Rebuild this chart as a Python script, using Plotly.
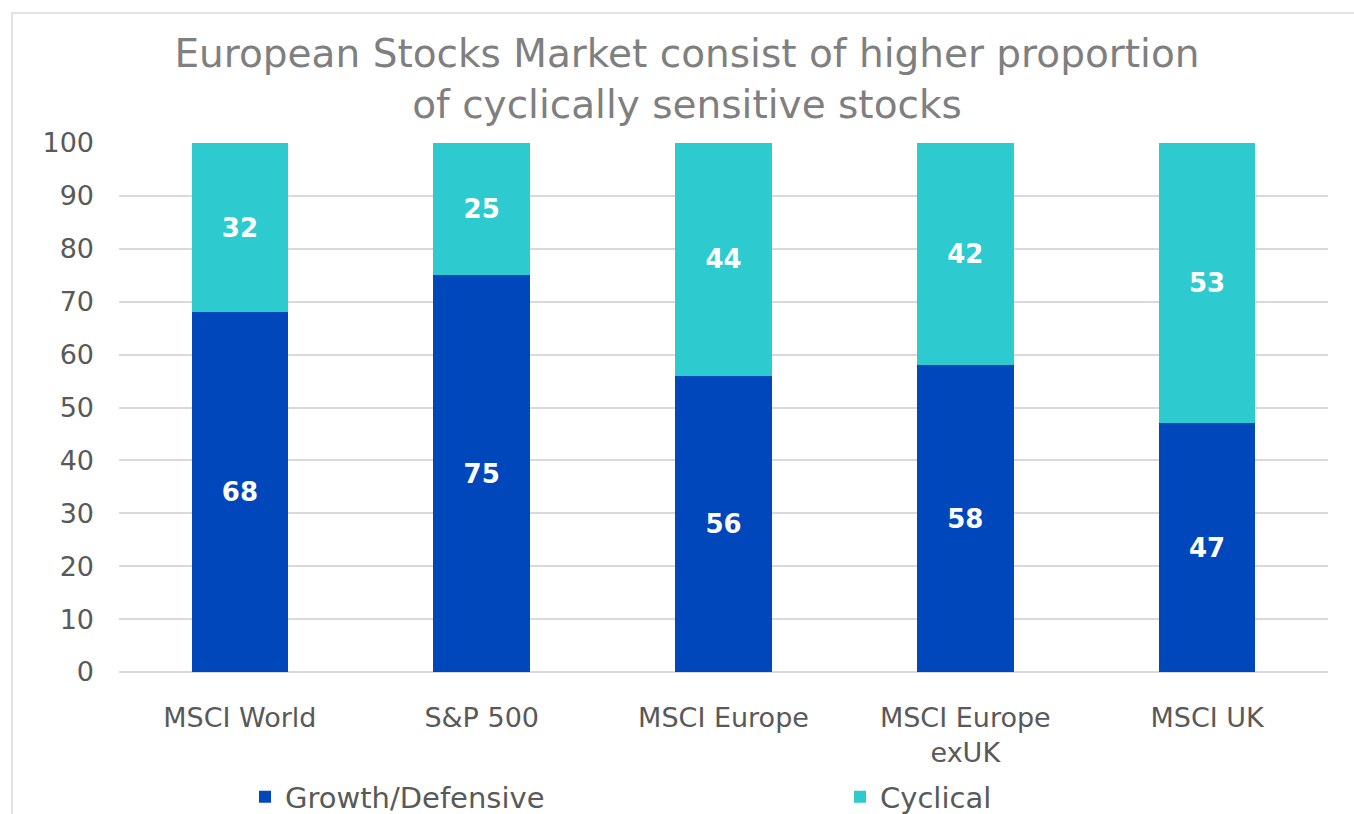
import plotly.graph_objects as go

categories = ["MSCI World", "S&P 500", "MSCI Europe", "MSCI Europe<br>exUK", "MSCI UK"]
growth_defensive = [68, 75, 56, 58, 47]
cyclical = [32, 25, 44, 42, 53]
y_ticks = [0, 10, 20, 30, 40, 50, 60, 70, 80, 90, 100]

FONT = "DejaVu Sans"
W, H = 1354, 814
L, R, T, B = 119, 26, 143, 142
pw = W - L - R
ph = H - T - B

fig = go.Figure()
fig.add_trace(go.Bar(
    x=categories, y=growth_defensive, name="Growth/Defensive",
    marker=dict(color="#0047BB", line=dict(width=0)),
    text=growth_defensive, textposition="inside", insidetextanchor="middle",
    textfont=dict(color="white", size=26, family=FONT, weight="bold"),
    legend="legend",
))
fig.add_trace(go.Bar(
    x=categories, y=cyclical, name="Cyclical",
    marker=dict(color="#2DCBD0", line=dict(width=0)),
    text=cyclical, textposition="inside", insidetextanchor="middle",
    textfont=dict(color="white", size=26, family=FONT, weight="bold"),
    legend="legend2",
))

legend_common = dict(
    orientation="h", xanchor="left",
    y=-(797 - (T + ph)) / ph, yanchor="middle",
    font=dict(size=29, color="#595959"),
    itemwidth=30, bgcolor="rgba(0,0,0,0)",
)

fig.update_layout(
    barmode="stack",
    bargap=0.6,
    width=W, height=H,
    margin=dict(l=L, r=R, t=T, b=B, autoexpand=False),
    paper_bgcolor="white", plot_bgcolor="white",
    font=dict(family=FONT, color="#595959"),
    title=dict(
        text="European Stocks Market consist of higher proportion<br>of cyclically sensitive stocks",
        x=(687 - L) / pw, xanchor="center", xref="paper",
        y=1 - 67 / H, yanchor="middle", yref="container",
        font=dict(size=39, color="#7F7F7F", family=FONT),
    ),
    xaxis=dict(
        tickfont=dict(size=27, color="#595959"),
        showgrid=False, showline=False, ticks="",
        ticklabelstandoff=27,
    ),
    yaxis=dict(
        range=[0, 100], tickvals=y_ticks,
        tickfont=dict(size=27, color="#595959"),
        showgrid=True, gridcolor="#D9D9D9", gridwidth=1.5,
        zeroline=True, zerolinecolor="#D9D9D9", zerolinewidth=1.5,
        showline=False, ticks="", ticklabelstandoff=24,
    ),
    legend=dict(legend_common, x=(245 - L) / pw),
    legend2=dict(legend_common, x=(840 - L) / pw),
    showlegend=True,
    uniformtext=dict(mode="show", minsize=10),
)

fig.add_shape(
    type="rect", xref="paper", yref="paper",
    x0=(12 - L) / pw, x1=(W + 5 - L) / pw,
    y0=-(H + 5 - T - ph) / ph, y1=1 + (T - 13) / ph,
    line=dict(color="#D9D9D9", width=1.5), layer="below",
)

fig.write_html(
    "out.html",
    config={"displayModeBar": False},
    post_script="document.body.style.margin='0';document.body.style.overflow='hidden';",
)
